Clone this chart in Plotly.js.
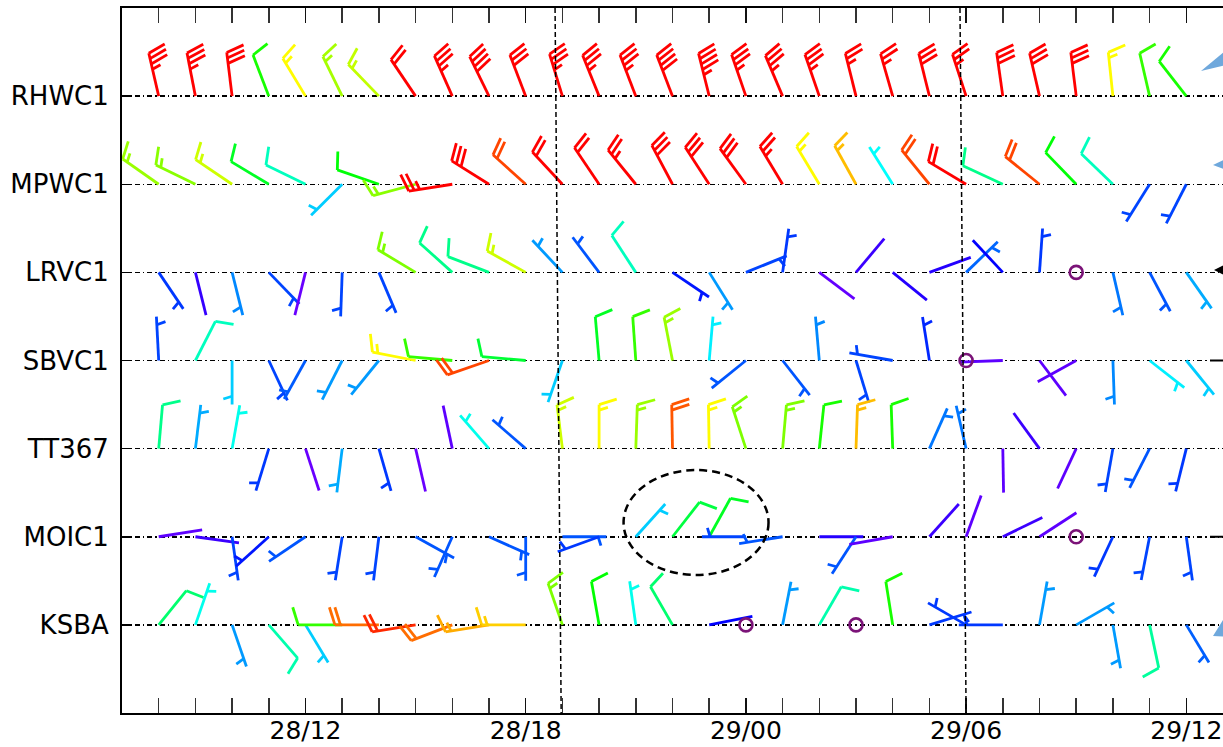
<!DOCTYPE html>
<html><head><meta charset="utf-8">
<script src="https://cdn.plot.ly/plotly-3.0.1.min.js"></script>
<style>html,body{margin:0;padding:0;background:#fff;overflow:hidden}</style>
</head><body><div id="chart" style="width:1223px;height:747px"></div>
<script>
// ---------------- DATA ----------------
const stations = ['RHWC1','MPWC1','LRVC1','SBVC1','TT367','MOIC1','KSBA'];
const stationPos = [7,6,5,4,3,2,1];
const times = ['2019-11-28 08:00','2019-11-28 09:00','2019-11-28 10:00','2019-11-28 11:00','2019-11-28 12:00',
  '2019-11-28 13:00','2019-11-28 14:00','2019-11-28 15:00','2019-11-28 16:00','2019-11-28 17:00',
  '2019-11-28 18:00','2019-11-28 19:00','2019-11-28 20:00','2019-11-28 21:00','2019-11-28 22:00',
  '2019-11-28 23:00','2019-11-29 00:00','2019-11-29 01:00','2019-11-29 02:00','2019-11-29 03:00',
  '2019-11-29 04:00','2019-11-29 05:00','2019-11-29 06:00','2019-11-29 07:00','2019-11-29 08:00',
  '2019-11-29 09:00','2019-11-29 10:00','2019-11-29 11:00','2019-11-29 12:00'];

// wind direction (deg, from) and speed (kt); null direction = calm
const dirRHWC1 = [347,349,353,339,329,334,316,326,336,334,339,343,338,339,339,346,341,337,341,346,344,346,342,352,347,353,354,347,322];
const spdRHWC1 = [35,35,30,11.5,15.6,14,14.5,21,35,40,30,35,35,35,40,45,35,35,35,25,25,30,25,30,30,30,15.6,12,11.5];

const dirMPWC1 = [305,296,304,301,296,225,289,255,261,302,312,317,326,321,332,327,324,329,329,331,328,321,301,295,309,316,314,212,207];
const spdMPWC1 = [13.8,13.5,14.7,10.5,7.8,5.8,11,13.5,25,30,18.8,22,22,25,30,30,30,25,15.6,16.7,6.7,18.8,22,8.7,18.8,11,7.8,3.4,3.4];

const dirLRVC1 = [146,166,166,136,194,182,157,301,312,291,299,317,323,327,124,148,68,8,127,40,129,70,46,317,4,null,167,152,145];
const spdLRVC1 = [3.2,1.3,4.6,3.4,0.4,3.4,3.4,13.3,8.7,8.7,14.7,4.9,3.7,7.8,2.6,4.9,3.4,3.2,0.5,1.2,1.6,1.6,4.0,2.2,3.2,0,4.3,3.7,5.2];

const dirSBVC1 = [357,27,180,155,209,207,219,281,275,251,275,199,355,356,349,5,231,142,355,163,280,351,null,268,143,241,178,128,141];
const spdSBVC1 = [3.4,7.8,5.8,3.4,3.8,4.9,4.9,15.6,12,18.8,10.2,5.8,10.5,12,13.8,6.4,3.7,3.7,4.6,3.4,3.4,2.9,0,0.6,0.6,0.6,4.6,6.4,5.8];

const dirTT367 = [5,7,10,197,162,187,164,167,348,319,311,353,0,2,359,359,342,5,6,2,358,24,347,179,324,205,190,207,194];
const spdTT367 = [8.7,5.2,7.0,3.2,0.4,5.2,3.2,0.4,0.6,7.0,3.7,14.7,15.6,13.8,18.5,15.6,13.3,13.3,11.5,16.7,11.5,4.3,4.3,0.6,1.2,0.6,3.4,3.7,3.2];

const dirMOIC1 = [81,98,172,228,236,189,187,119,204,114,180,90,250,42,38,29,270,261,90,213,260,42,20,64,57,null,205,191,172];
const spdMOIC1 = [0.6,1.2,3.4,2.6,3.7,3.4,3.4,3.7,3.7,3.7,3.7,3.7,3.2,5.8,10,10.5,3.4,3.7,1.6,3.7,0.6,1.2,0.6,1.2,0.6,0,3.2,3.4,3.4];

const dirKSBA = [39,19,161,139,149,270,270,261,249,261,270,341,350,352,330,79,null,11,30,null,351,73,300,270,10,60,170,168,149];
const spdKSBA = [9.2,7.0,4.9,8.1,5.8,12,18.1,19.3,18.1,17,16.4,13.3,11.1,7.0,9.2,2.2,0,4.9,8.1,0,11.5,3.2,3.2,3.2,4.9,4.9,4.9,8.4,3.9];

const dirs = [dirRHWC1,dirMPWC1,dirLRVC1,dirSBVC1,dirTT367,dirMOIC1,dirKSBA];
const spds = [spdRHWC1,spdMPWC1,spdLRVC1,spdSBVC1,spdTT367,spdMOIC1,spdKSBA];

// ---------------- LAYOUT GEOMETRY ----------------
const W = 1223, H = 747;
const M = {l:122, r:0, t:8, b:34};
const plotW = W - M.l - M.r, plotH = H - M.t - M.b;
const MS_H = 3600e3;
const xRange = ['2019-11-28 07:00','2019-11-29 13:00'];
const yRange = [0, 8];
const toMs = s => new Date(s.replace(' ','T')+':00Z').getTime();
const msToStr = ms => new Date(ms).toISOString().replace('T',' ').replace('Z','');
const pxPerMs = plotW / (toMs(xRange[1]) - toMs(xRange[0]));
const pxPerUnit = plotH / (yRange[1] - yRange[0]);

// barb style (pixels)
const L = 44, FH = 0.4*L, FW = 0.25*L, SP = 0.125*L;

function speedColor(s){
  const f = Math.min(s, 20) / 20;
  const h = 270 * (1 - f);
  const c = (n) => { const k = (n + h/60) % 6; return Math.round(255*(1 - Math.max(0, Math.min(k, 4-k, 1)))); };
  return `rgb(${c(5)},${c(3)},${c(1)})`;
}

const traces = [];
const calmX = [], calmY = [];
stations.forEach((st, si) => {
  const yb = stationPos[si];
  times.forEach((t, hi) => {
    const d = dirs[si][hi], s = spds[si][hi];
    const xb = toMs(t);
    if (d === null) { calmX.push(t); calmY.push(yb); return; }
    const th = d * Math.PI / 180;
    const ux = Math.sin(th), uy = Math.cos(th);
    const px = uy, py = -ux;              // clockwise perpendicular
    const segs = [[[0,0],[L*ux, L*uy]]];
    const r = 5 * Math.floor(s/5 + 0.5);
    const nFull = Math.floor((r % 50) / 10);
    const half = (r % 10) >= 5;
    let off = L;
    for (let i = 0; i < nFull; i++) {
      segs.push([[off*ux, off*uy],[off*ux + FH*px + FW/2*ux, off*uy + FH*py + FW/2*uy]]);
      off -= SP;
    }
    if (half) {
      if (off === L) off -= 1.5*SP;
      segs.push([[off*ux, off*uy],[off*ux + FH/2*px + FW/4*ux, off*uy + FH/2*py + FW/4*uy]]);
    }
    const xs = [], ys = [];
    segs.forEach((sg, k) => {
      if (k) { xs.push(null); ys.push(null); }
      sg.forEach(p => { xs.push(msToStr(xb + p[0]/pxPerMs)); ys.push(yb + p[1]/pxPerUnit); });
    });
    traces.push({type:'scatter', mode:'lines', x:xs, y:ys, hoverinfo:'skip',
      line:{color:speedColor(s), width:2.8}, cliponaxis:true});
  });
});
traces.push({type:'scatter', mode:'markers', x:calmX, y:calmY, hoverinfo:'skip',
  marker:{symbol:'circle-open', size:13, color:'#7b1378', line:{width:2.6, color:'#7b1378'}}});

// helpers for decorations given in figure pixels
const pxX = p => (p - M.l) / plotW;
const pxY = p => (H - M.b - p) / plotH;
const tri = (pts) => 'M ' + pts.map(p => pxX(p[0]) + ' ' + pxY(p[1])).join(' L ') + ' Z';

const shapes = [
  {type:'line', xref:'x', yref:'paper', x0:'2019-11-28 18:48', x1:'2019-11-28 18:58', y0:1, y1:0,
   line:{color:'#000', width:1.5, dash:'5px,3px'}},
  {type:'line', xref:'x', yref:'paper', x0:'2019-11-29 05:50', x1:'2019-11-29 06:00', y0:1, y1:0,
   line:{color:'#000', width:1.5, dash:'5px,3px'}},
  {type:'circle', xref:'x', yref:'y', x0:'2019-11-28 20:40', x1:'2019-11-29 00:37', y0:1.566, y1:2.757,
   line:{color:'#000', width:2.5, dash:'8px,5px'}},
  {type:'path', xref:'paper', yref:'paper', path:tri([[1201,71],[1230,47],[1230,64]]), fillcolor:'#6fa8dc', line:{width:0}},
  {type:'path', xref:'paper', yref:'paper', path:tri([[1213,165],[1232,156],[1232,172]]), fillcolor:'#6fa8dc', line:{width:0}},
  {type:'path', xref:'paper', yref:'paper', path:tri([[1213,636],[1228,612],[1230,637]]), fillcolor:'#6fa8dc', line:{width:0}},
  {type:'path', xref:'paper', yref:'paper', path:tri([[1214,270],[1226,264],[1226,276]]), fillcolor:'#000', line:{width:0}},
  {type:'line', xref:'paper', yref:'y', x0:pxX(1210), x1:pxX(1224), y0:4, y1:4, line:{color:'#000', width:2}},
  {type:'line', xref:'paper', yref:'y', x0:pxX(1210), x1:pxX(1224), y0:2, y1:2, line:{color:'#000', width:2}}
];

const layout = {
  width:W, height:H, margin:M, showlegend:false,
  paper_bgcolor:'#fff', plot_bgcolor:'#fff',
  font:{family:'DejaVu Sans, sans-serif', size:25, color:'#000'},
  xaxis:{type:'date', range:xRange, tickformat:'%d/%H', dtick:6*MS_H, tick0:'2019-11-28 00:00',
    ticks:'inside', ticklen:15, tickwidth:1.5, tickcolor:'#111', showline:true, linecolor:'#000', linewidth:2,
    mirror:'allticks', showgrid:false, zeroline:false, ticklabelstandoff:-6,
    minor:{dtick:MS_H, ticks:'inside', ticklen:15, tickwidth:1.5, tickcolor:'#333', showgrid:false},
    tickfont:{size:25, color:'#000'}, fixedrange:true},
  yaxis:{range:yRange, tickmode:'array', tickvals:stationPos, ticktext:stations,
    ticks:'inside', ticklen:10, tickwidth:1.5, tickcolor:'#000', showline:true, linecolor:'#000', linewidth:2,
    showgrid:true, gridcolor:'#000', gridwidth:1.5, griddash:'5px,3px,1.5px,3px', zeroline:false,
    tickfont:{size:26, color:'#000'}, ticklabelstandoff:6, fixedrange:true},
  shapes:shapes
};
Plotly.newPlot('chart', traces, layout, {displayModeBar:false, staticPlot:true});
</script></body></html>
